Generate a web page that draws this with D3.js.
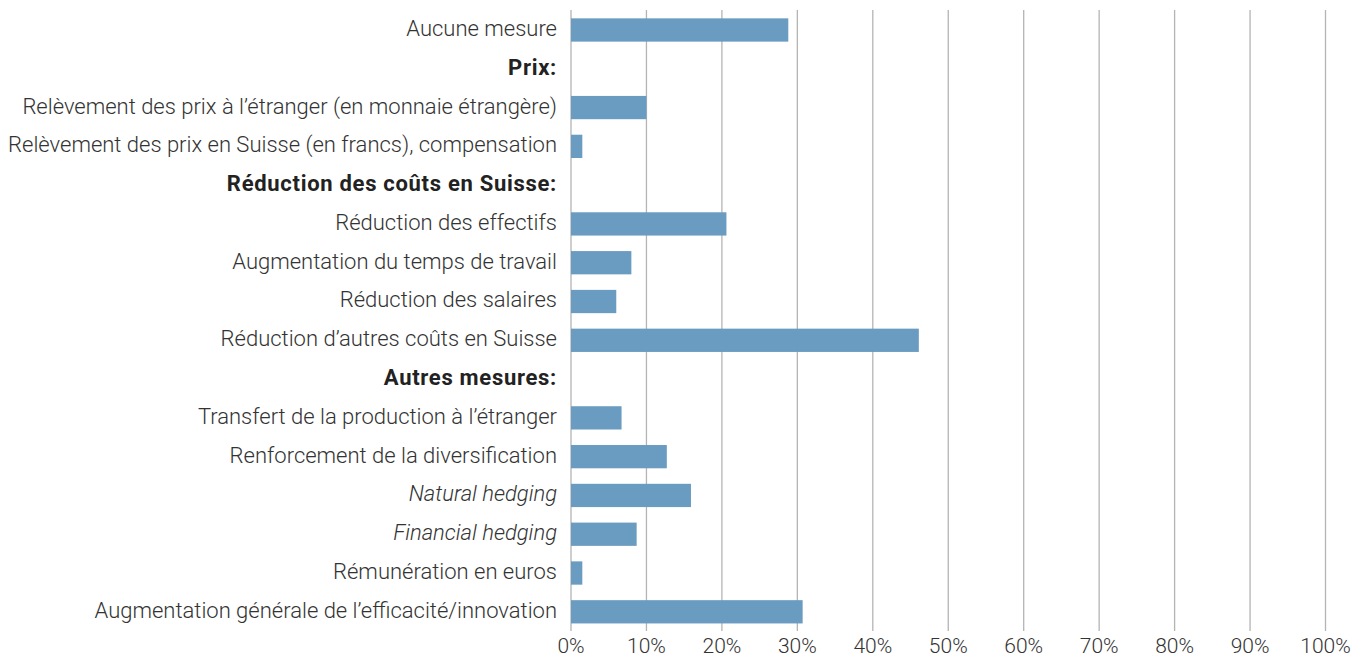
<!DOCTYPE html>
<html>
<head>
<meta charset="utf-8">
<script src="https://cdn.jsdelivr.net/npm/d3@7"></script>
<style>
  body { margin: 0; background: #fff; }
  svg text { font-family: Roboto, "Liberation Sans", sans-serif; }
</style>
</head>
<body>
<svg id="chart" width="1355" height="657"></svg>
<script>
// categories (top to bottom); null value = section header
const categories = [
  "Aucune mesure",
  "Prix:",
  "Relèvement des prix à l’étranger (en monnaie étrangère)",
  "Relèvement des prix en Suisse (en francs), compensation",
  "Réduction des coûts en Suisse:",
  "Réduction des effectifs",
  "Augmentation du temps de travail",
  "Réduction des salaires",
  "Réduction d’autres coûts en Suisse",
  "Autres mesures:",
  "Transfert de la production à l’étranger",
  "Renforcement de la diversification",
  "Natural hedging",
  "Financial hedging",
  "Rémunération en euros",
  "Augmentation générale de l’efficacité/innovation"
];
const values = [28.8, null, 10.0, 1.5, null, 20.6, 8.0, 6.0, 46.1, null, 6.7, 12.7, 15.9, 8.7, 1.5, 30.7];
const headers = ["Prix:", "Réduction des coûts en Suisse:", "Autres mesures:"];
const italics = ["Natural hedging", "Financial hedging"];
const ticks = [0, 10, 20, 30, 40, 50, 60, 70, 80, 90, 100];

const svg = d3.select("#chart");
const x = d3.scaleLinear().domain([0, 100]).range([571, 1325.5]);
const y = d3.scaleBand().domain(categories).range([10.6, 631.2]).paddingInner(0.4).paddingOuter(0.2);

// gridlines
svg.append("g")
  .selectAll("line")
  .data(ticks)
  .enter()
  .append("line")
  .attr("x1", d => x(d))
  .attr("x2", d => x(d))
  .attr("y1", 10)
  .attr("y2", 631)
  .style("stroke", "#b4b4b4")
  .style("stroke-width", 1.3);

// bars
const rows = categories.map((c, i) => ({ cat: c, v: values[i] })).filter(d => d.v !== null);
svg.append("g")
  .selectAll("rect")
  .data(rows)
  .enter()
  .append("rect")
  .attr("x", x(0))
  .attr("y", d => y(d.cat))
  .attr("width", d => x(d.v) - x(0))
  .attr("height", y.bandwidth())
  .style("fill", "#6a9bc0");

// category labels
svg.append("g")
  .selectAll("text")
  .data(categories)
  .enter()
  .append("text")
  .attr("x", 557)
  .attr("y", d => y(d) + y.bandwidth() / 2)
  .attr("dy", "0.27em")
  .attr("text-anchor", "end")
  .style("font-size", "22px")
  .style("font-weight", d => headers.includes(d) ? 700 : 300)
  .style("letter-spacing", d => headers.includes(d) ? "0.7px" : "0px")
  .style("font-style", d => italics.includes(d) ? "italic" : "normal")
  .style("fill", d => headers.includes(d) ? "#222" : "#333")
  .text(d => d);

// x tick labels
svg.append("g")
  .selectAll("text")
  .data(ticks)
  .enter()
  .append("text")
  .attr("x", d => x(d))
  .attr("y", 653)
  .attr("text-anchor", "middle")
  .style("font-size", "21px")
  .style("font-weight", 300)
  .style("fill", "#333")
  .text(d => d + "%");
</script>
</body>
</html>
